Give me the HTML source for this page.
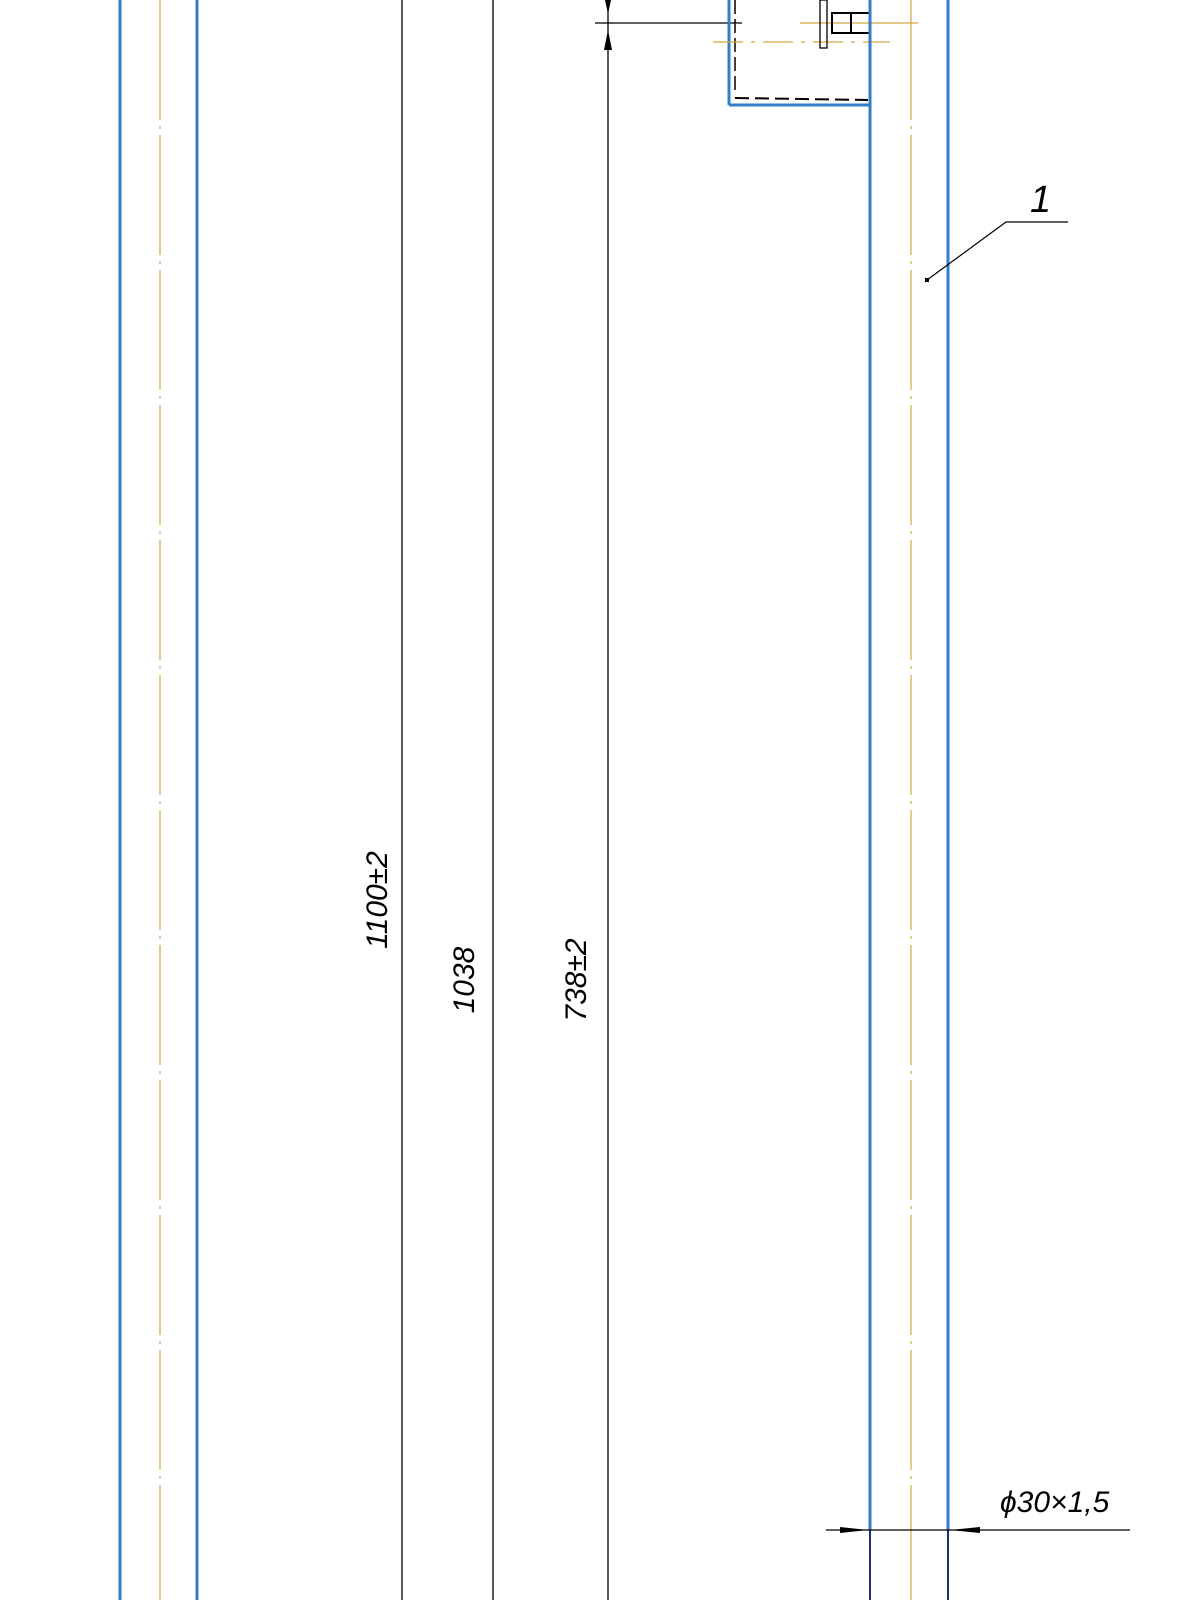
<!DOCTYPE html>
<html><head><meta charset="utf-8"><style>html,body{margin:0;padding:0;background:#fff}svg{display:block}</style></head>
<body>
<svg width="1200" height="1600" xmlns="http://www.w3.org/2000/svg" font-family="Liberation Sans, sans-serif">
<!-- left pipe -->
<line x1="120" y1="0" x2="120" y2="1600" stroke="#2f7fc8" stroke-width="3"/>
<line x1="197" y1="0" x2="197" y2="1600" stroke="#2f7fc8" stroke-width="3"/>
<line x1="160" y1="0" x2="160" y2="1600" stroke="#d9a640" stroke-width="1.2" stroke-dasharray="120,6,3,6"/>
<!-- dimension lines -->
<line x1="402" y1="0" x2="402" y2="1600" stroke="#000" stroke-width="1.3"/>
<line x1="493" y1="0" x2="493" y2="1600" stroke="#000" stroke-width="1.3"/>
<line x1="608" y1="0" x2="608" y2="1600" stroke="#000" stroke-width="1.3"/>
<polygon points="605,0 611,0 608,14" fill="#000"/>
<polygon points="604,50 612,50 608,30" fill="#000"/>
<line x1="595" y1="23" x2="742" y2="23" stroke="#000" stroke-width="1.3"/>
<!-- box -->
<line x1="729" y1="0" x2="729" y2="105" stroke="#2f7fc8" stroke-width="3"/>
<line x1="729" y1="105" x2="870" y2="105" stroke="#2f7fc8" stroke-width="3"/>
<line x1="735" y1="0" x2="735" y2="95" stroke="#000" stroke-width="1.5" stroke-dasharray="14,5"/>
<line x1="735" y1="98" x2="868" y2="100" stroke="#000" stroke-width="2" stroke-dasharray="14,6"/>
<line x1="800" y1="23" x2="918" y2="23" stroke="#d9a640" stroke-width="1.2"/>
<line x1="713" y1="42" x2="890" y2="42" stroke="#d9a640" stroke-width="1.2" stroke-dasharray="30,8,4,8"/>
<rect x="820" y="0" width="7" height="48" fill="none" stroke="#000" stroke-width="1.3"/>
<rect x="832" y="13" width="38" height="20" fill="none" stroke="#000" stroke-width="2"/>
<line x1="851" y1="13" x2="851" y2="33" stroke="#000" stroke-width="2"/>
<!-- right pipe -->
<line x1="870" y1="0" x2="870" y2="1530" stroke="#2f7fc8" stroke-width="3"/>
<line x1="870" y1="1530" x2="870" y2="1600" stroke="#1a2f6a" stroke-width="2"/>
<line x1="948" y1="0" x2="948" y2="1530" stroke="#2f7fc8" stroke-width="3"/>
<line x1="948" y1="1530" x2="948" y2="1600" stroke="#1a2f6a" stroke-width="2"/>
<line x1="911" y1="0" x2="911" y2="1600" stroke="#d9a640" stroke-width="1.2" stroke-dasharray="120,6,3,6"/>
<!-- leader 1 -->
<polyline points="927,280 1006,222 1068,222" fill="none" stroke="#000" stroke-width="1.2"/>
<rect x="925" y="278" width="4" height="4" fill="#000"/>
<text x="1030" y="212" font-size="38" font-style="italic" fill="#000">1</text>
<!-- diameter dim -->
<line x1="826" y1="1530" x2="1130" y2="1530" stroke="#000" stroke-width="1.3"/>
<polygon points="840,1527 840,1533 868,1530" fill="#000"/>
<polygon points="980,1527 980,1533 950,1530" fill="#000"/>
<text x="1000" y="1512" font-size="30" font-style="italic" fill="#000">ϕ30×1,5</text>
<!-- rotated labels -->
<text transform="translate(387,900) rotate(-90)" text-anchor="middle" font-size="30" font-style="italic" fill="#000">1100±2</text>
<text transform="translate(474,980) rotate(-90)" text-anchor="middle" font-size="30" font-style="italic" fill="#000">1038</text>
<text transform="translate(586,980) rotate(-90)" text-anchor="middle" font-size="30" font-style="italic" fill="#000">738±2</text>
</svg>
</body></html>
